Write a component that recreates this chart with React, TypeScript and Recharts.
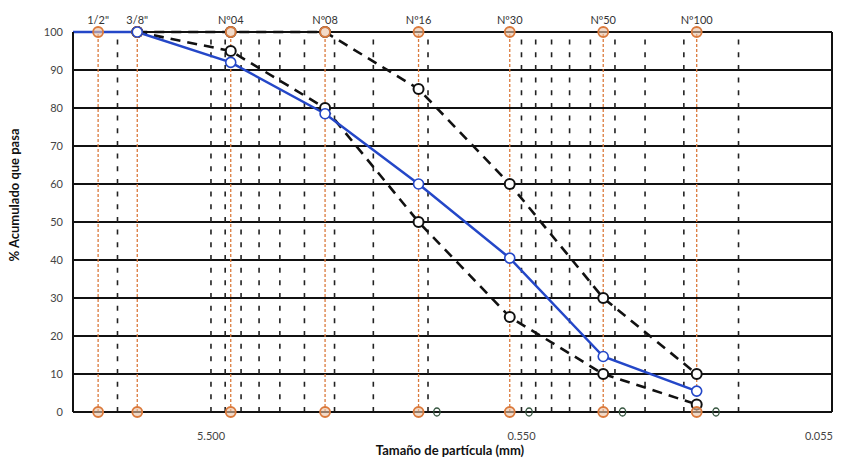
import {
  ComposedChart,
  Line,
  Scatter,
  XAxis,
  YAxis,
  CartesianGrid,
  ReferenceLine,
  Label,
} from 'recharts'

const sieveNames = ['1/2"', '3/8"', 'Nº04', 'Nº08', 'Nº16', 'Nº30', 'Nº50', 'Nº100']
const sieveSizes = [12.7, 9.5, 4.75, 2.36, 1.18, 0.6, 0.3, 0.15]

const curveSizes = [19.05, 9.5, 4.75, 2.36, 1.18, 0.6, 0.3, 0.15]
const curvePassing = [100, 100, 92, 78.5, 60, 40.5, 14.6, 5.5]

const limitSizes = [9.5, 4.75, 2.36, 1.18, 0.6, 0.3, 0.15]
const lowerLimit = [100, 95, 80, 50, 25, 10, 2]
const upperLimit = [100, 100, 100, 85, 60, 30, 10]

const zeroMarkSizes = [1.03, 0.52, 0.26, 0.13]

const xTicks = [5.5, 0.55, 0.055]
const yTicks = [0, 10, 20, 30, 40, 50, 60, 70, 80, 90, 100]
const X_MIN = 0.055
const X_MAX = 15.3

const FONT = 'Lato, "Liberation Sans", sans-serif'
const ORANGE = '#DB7A3C'
const BLUE = '#2447C8'

// log axis minor gridlines (1..9 x each major)
const gridValues = xTicks
  .flatMap(b => [1, 2, 3, 4, 5, 6, 7, 8, 9].map(k => +(b * k).toFixed(4)))
  .filter(v => v >= X_MIN && v <= X_MAX)

const pair = (xs: number[], ys: number[]) => xs.map((size, i) => ({ size, pct: ys[i] }))

const curveData = pair(curveSizes, curvePassing)
const lowerData = pair(limitSizes, lowerLimit)
const upperData = pair(limitSizes, upperLimit)
const sieveMarks = sieveSizes.flatMap(size => [
  { size, pct: 100 },
  { size, pct: 0 },
])
const zeroMarks = zeroMarkSizes.map(size => ({ size, pct: 0 }))

interface ShapeProps {
  cx?: number
  cy?: number
}

function OrangeDot({ cx, cy }: ShapeProps) {
  if (cx == null || cy == null) return null
  return <circle cx={cx} cy={cy} r={5} fill="#EBC3A5" fillOpacity={0.6} stroke={ORANGE} strokeWidth={1.8} />
}

function GreenDot({ cx, cy }: ShapeProps) {
  if (cx == null || cy == null) return null
  return <ellipse cx={cx} cy={cy} rx={3.2} ry={4} fill="none" stroke="#35553F" strokeWidth={1.3} />
}

interface TickProps {
  x?: number
  y?: number
  payload?: { value: number }
}

function XTick({ x = 0, y = 0, payload }: TickProps) {
  const v = payload?.value ?? 0
  const last = v === X_MIN
  return (
    <text
      x={last ? x + 6 : x}
      y={y}
      dy="0.71em"
      textAnchor={last ? 'end' : 'middle'}
      fontSize={11}
      fill="#444"
      fontFamily={FONT}
    >
      {v.toFixed(3)}
    </text>
  )
}

export default function App() {
  return (
    <div style={{ position: 'absolute', left: 0, top: 0, width: 845, height: 465, background: '#fff' }}>
      <ComposedChart
        width={845}
        height={465}
        margin={{ top: 32, right: 13, bottom: 0, left: 0 }}
      >
        <CartesianGrid vertical={false} stroke="#111" strokeWidth={1.8} />
        <XAxis
          type="number"
          dataKey="size"
          scale="log"
          domain={[X_MIN, X_MAX]}
          reversed
          allowDataOverflow
          ticks={xTicks}
          tickLine={false}
          tickMargin={14}
          height={53}
          axisLine={{ stroke: '#111', strokeWidth: 2 }}
          tick={<XTick />}
        >
          <Label
            content={() => (
              <text x={450} y={455} textAnchor="middle" fontSize={13} fontWeight={700} fill="#111" fontFamily={FONT}>
                Tamaño de partícula (mm)
              </text>
            )}
          />
        </XAxis>
        <YAxis
          type="number"
          dataKey="pct"
          domain={[0, 100]}
          ticks={yTicks}
          tickLine={false}
          width={73}
          tickMargin={4}
          axisLine={{ stroke: '#111', strokeWidth: 2 }}
          tick={{ fontSize: 11, fill: '#444', fontFamily: FONT }}
        >
          <Label
            content={() => (
              <text
                x={19}
                y={195}
                transform="rotate(-90 19 195)"
                textAnchor="middle"
                fontSize={13}
                fontWeight={700}
                fill="#111"
                fontFamily={FONT}
              >
                % Acumulado que pasa
              </text>
            )}
          />
        </YAxis>

        {gridValues.map(v => (
          <ReferenceLine key={`g${v}`} x={v} stroke="#222" strokeWidth={1.6} strokeDasharray="5 7.67" />
        ))}
        <ReferenceLine x={X_MIN} stroke="#111" strokeWidth={2} />

        {sieveSizes.map((s, i) => (
          <ReferenceLine
            key={sieveNames[i]}
            x={s}
            stroke={ORANGE}
            strokeWidth={1.3}
            strokeDasharray="3 2"
            label={{ value: sieveNames[i], position: 'top', offset: 8, fontSize: 11, fill: '#333', fontFamily: FONT }}
          />
        ))}

        <Scatter data={zeroMarks} shape={<GreenDot />} isAnimationActive={false} />

        <Line
          data={lowerData}
          dataKey="pct"
          stroke="#111"
          strokeWidth={2.6}
          strokeDasharray="10 7"
          dot={{ r: 5, stroke: '#111', strokeWidth: 2, fill: '#fff', strokeDasharray: '' }}
          isAnimationActive={false}
        />
        <Line
          data={upperData}
          dataKey="pct"
          stroke="#111"
          strokeWidth={2.6}
          strokeDasharray="10 7"
          dot={{ r: 5, stroke: '#111', strokeWidth: 2, fill: '#fff', strokeDasharray: '' }}
          isAnimationActive={false}
        />
        <Scatter data={sieveMarks} shape={<OrangeDot />} isAnimationActive={false} />
        <Line
          data={curveData}
          dataKey="pct"
          stroke={BLUE}
          strokeWidth={2.5}
          dot={{ r: 5, stroke: BLUE, strokeWidth: 1.6, fill: '#fff' }}
          isAnimationActive={false}
        />
      </ComposedChart>
    </div>
  )
}
